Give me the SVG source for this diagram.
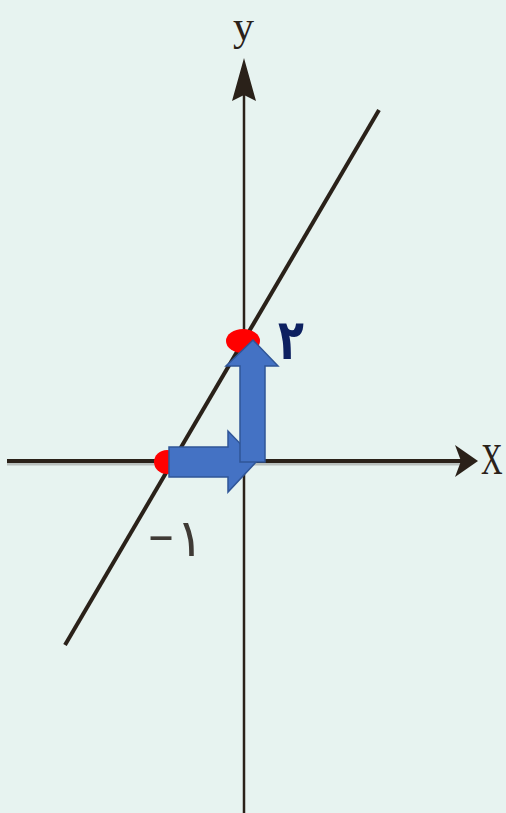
<svg xmlns="http://www.w3.org/2000/svg" width="506" height="813" viewBox="0 0 506 813">
<defs>
<style>
.axis{stroke:#2a2119;fill:none}
.head{fill:#2a2119}
.lbl{font-family:"Liberation Serif","DejaVu Serif",serif;fill:#2a2119}
.blue{fill:#4472c4;stroke:#2f5597;stroke-width:1.5;stroke-linejoin:miter}
.red{fill:#ff0000}
</style>
</defs>
<rect width="506" height="813" fill="#e7f3f0"/>
<g id="connectors">
<line x1="7" y1="464" x2="462" y2="464" stroke="#b9c0bd" stroke-width="3"/>
<line class="axis" x1="7" y1="461" x2="462" y2="461" stroke-width="4"/>
<polygon class="head" points="478,461 455,445 461,461 455,477"/>
<line class="axis" x1="244" y1="813" x2="244" y2="90" stroke-width="2.5"/>
<polygon class="head" points="244,58 232,101 244,95 256,101"/>
<line class="axis" x1="65" y1="645" x2="379" y2="110" stroke-width="4"/>
</g>
<g id="label-y"><text class="lbl" x="233" y="40" font-size="42">y</text></g>
<g id="label-x"><text class="lbl" transform="translate(481,474) scale(0.68,1)" font-size="44">X</text></g>
<g id="point-a"><ellipse class="red" cx="167" cy="462" rx="13" ry="12"/></g>
<g id="point-b"><ellipse class="red" cx="243" cy="341" rx="17" ry="12"/></g>
<g id="arrow-right"><polygon class="blue" points="169,447 228,447 228,431 257,461 228,492 228,477 169,477"/></g>
<g id="arrow-up"><polygon class="blue" points="240,462 240,366 226,366 253,340 278,366 265,366 265,462"/></g>
<g id="label-2"><text transform="translate(291,359) scale(0.85,1.12)" font-family="DejaVu Sans,sans-serif" font-weight="bold" font-size="50" fill="#0d2060" text-anchor="middle">٢</text></g>
<g id="label-minus1"><text font-family="DejaVu Sans,sans-serif" font-size="52" fill="#3f3a35" text-anchor="middle" direction="ltr"><tspan x="161" y="552">–</tspan><tspan x="190" y="556">١</tspan></text></g>
</svg>
